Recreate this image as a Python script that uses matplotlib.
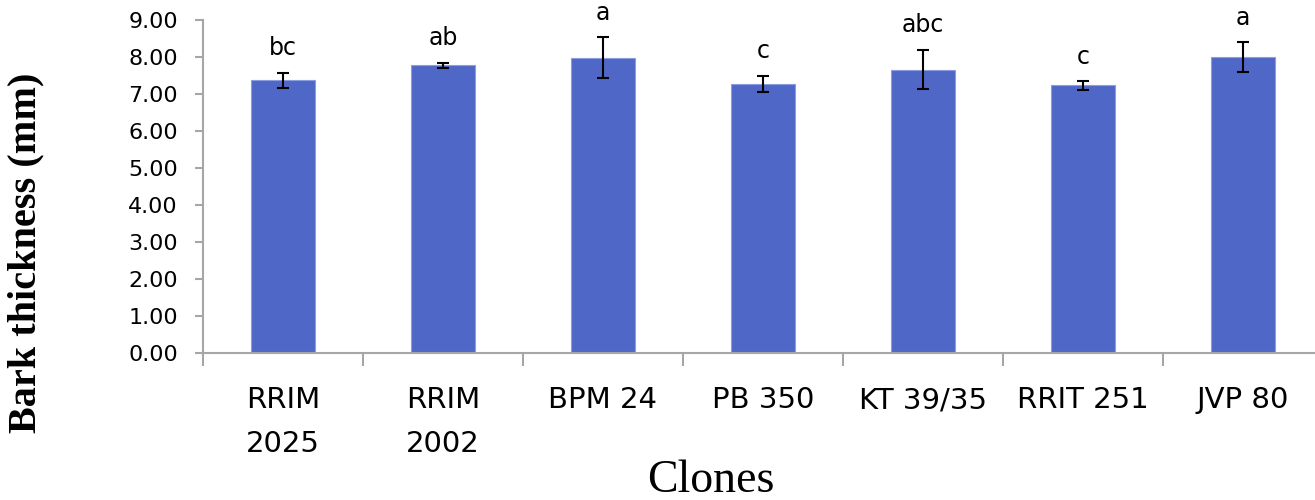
import matplotlib
matplotlib.use('Agg')
import matplotlib.pyplot as plt
import numpy as np

clones = ["RRIM\n2025", "RRIM\n2002", "BPM 24", "PB 350", "KT 39/35", "RRIT 251", "JVP 80"]
thickness = [7.37, 7.78, 7.98, 7.27, 7.66, 7.23, 8.00]
errors = [0.21, 0.07, 0.55, 0.22, 0.53, 0.12, 0.40]
letters = ["bc", "ab", "a", "c", "abc", "c", "a"]

bar_color = '#4f67c7'
axis_color = '#a6a6a6'

fig = plt.figure(figsize=(13.15, 5), dpi=100)
ax = fig.add_axes([203 / 1315, 147 / 500, 1120 / 1315, 333 / 500])

x = np.arange(len(clones))
ax.bar(x, thickness, width=0.4, color=bar_color, edgecolor='#8c9de2', linewidth=0.8, zorder=2)
ax.errorbar(x, thickness, yerr=errors, fmt='none', ecolor='black', elinewidth=1.5,
            capsize=4.5, capthick=1.5, zorder=3)

for xi, val, err, lab in zip(x, thickness, errors, letters):
    ax.annotate(lab, (xi, val + err), xytext=(0, 9), textcoords='offset points',
                ha='center', va='bottom', fontsize=17, family='DejaVu Sans')

ax.set_xlim(-0.5, len(clones) - 0.5)
ax.set_ylim(0, 9)
ax.set_yticks(np.arange(0, 10, 1))
ax.set_yticklabels([f'{v:.2f}' for v in np.arange(0, 10, 1)])

ax.set_xticks(x)
ax.set_xticklabels(clones, fontsize=21, linespacing=1.7)
ax.set_xticks(np.arange(-0.5, len(clones), 1), minor=True)
ax.tick_params(axis='x', which='major', length=0, pad=24)
ax.tick_params(axis='x', which='minor', length=9, width=1.5, color=axis_color)
ax.tick_params(axis='y', length=6, width=1.5, color=axis_color, pad=12, labelsize=16)

for side in ['top', 'right']:
    ax.spines[side].set_visible(False)
for side in ['left', 'bottom']:
    ax.spines[side].set_color(axis_color)
    ax.spines[side].set_linewidth(1.5)

ax.set_ylabel('Bark thickness (mm)', family='Liberation Serif', fontweight='bold', fontsize=29)
ax.yaxis.set_label_coords(-0.1415, 0.30)
ax.set_xlabel('Clones', family='Liberation Serif', fontsize=33)
ax.xaxis.set_label_coords(0.453, -0.32)

fig.savefig('out.png', dpi=100)
